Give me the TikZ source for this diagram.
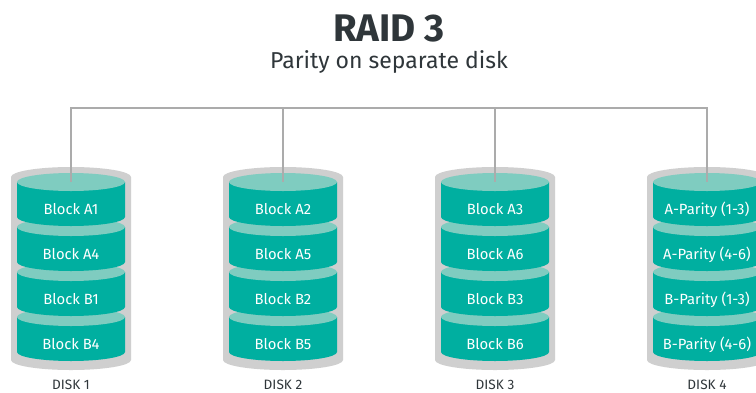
\documentclass[tikz,border=0pt]{standalone}
\usepackage{fontspec}
\setmainfont{Fira Sans}
\definecolor{teal1}{HTML}{00AFA0}
\definecolor{teal2}{HTML}{7FCCC0}
\definecolor{shell}{HTML}{CFCFCF}
\definecolor{wire}{HTML}{ABABAB}
\definecolor{ink}{HTML}{2F363A}
\tikzset{
  blocktext/.style={text=white,font=\fontsize{14.8}{16}\selectfont,inner sep=0pt,anchor=base},
  disklabel/.style={text=ink,font=\fontsize{13.6}{16}\selectfont,inner sep=0pt,anchor=base},
  titletext/.style={text=ink,font=\fontsize{38.5}{42}\bfseries\selectfont,inner sep=0pt},
  subtext/.style={text=ink,font=\fontsize{23}{26}\selectfont,inner sep=0pt},
  wireline/.style={draw=wire,line width=1.2pt}
}
\newcommand{\platter}[2]{% x, top centre y
  \fill[teal1] (#1-54,#2) -- (#1-54,#2+35) arc[start angle=180,end angle=0,x radius=54,y radius=9] -- (#1+54,#2) -- cycle;
  \fill[teal2] (#1,#2) ellipse[x radius=54,y radius=9];
}
\newcommand{\diskstack}[7]{% name, x, four labels, caption
  \fill[shell] (#2-60,177) arc[start angle=180,end angle=360,x radius=60,y radius=10] -- (#2+60,360) arc[start angle=0,end angle=180,x radius=60,y radius=10] -- cycle;
  \platter{#2}{317}
  \platter{#2}{272}
  \platter{#2}{227}
  \platter{#2}{182}
  \node[blocktext] (#1a) at (#2,214.2) {#3};
  \node[blocktext] (#1b) at (#2,259.2) {#4};
  \node[blocktext] (#1c) at (#2,304.2) {#5};
  \node[blocktext] (#1d) at (#2,349.2) {#6};
  \node[disklabel] (#1cap) at (#2,389.5) {#7};
  \coordinate (#1) at (#2,182);
  \coordinate (#1bus) at (#2,108);
}
\begin{document}
\begin{tikzpicture}[x=1pt,y=-1pt]
\useasboundingbox (0,0) rectangle (756,392);
\clip (0,0) rectangle (756,392);
\fill[white] (0,0) rectangle (756,392);
\node[titletext] (title) at (389,28) {RAID 3};
\node[subtext] (subtitle) at (389,62) {Parity on separate disk};
\diskstack{d1}{71}{Block A1}{Block A4}{Block B1}{Block B4}{DISK 1}
\diskstack{d2}{283}{Block A2}{Block A5}{Block B2}{Block B5}{DISK 2}
\diskstack{d3}{495}{Block A3}{Block A6}{Block B3}{Block B6}{DISK 3}
\diskstack{d4}{707}{A-Parity (1-3)}{A-Parity (4-6)}{B-Parity (1-3)}{B-Parity (4-6)}{DISK 4}
\draw[wireline] (d1) -- (d1bus) -- (d4bus) -- (d4);
\draw[wireline] (d2bus) -- (d2);
\draw[wireline] (d3bus) -- (d3);
\end{tikzpicture}
\end{document}
